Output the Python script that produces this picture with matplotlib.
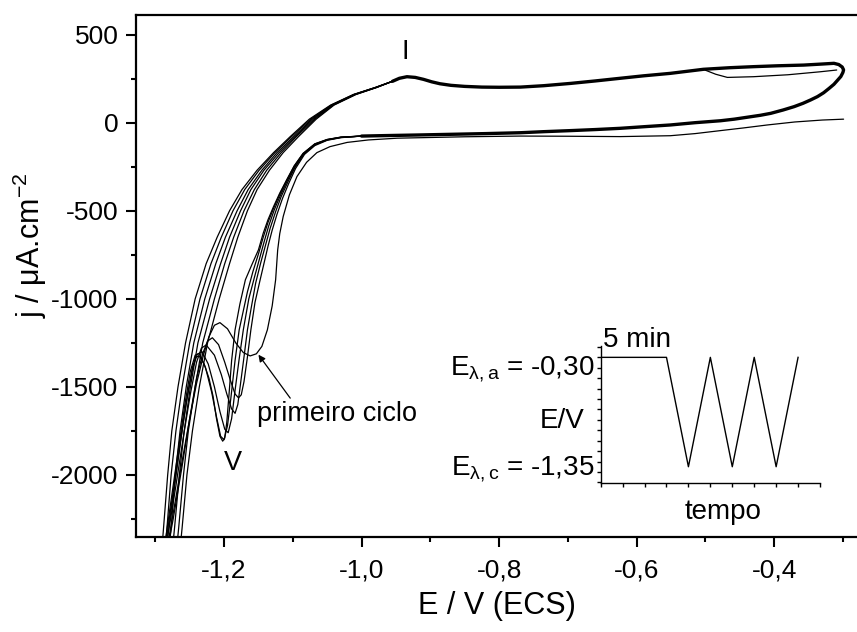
import matplotlib
matplotlib.use('Agg')
import matplotlib.pyplot as plt
from matplotlib.ticker import MultipleLocator

plt.rcParams['font.family'] = ['Liberation Sans', 'DejaVu Sans']
plt.rcParams['mathtext.fontset'] = 'custom'
plt.rcParams['mathtext.rm'] = 'Liberation Sans'
plt.rcParams['mathtext.it'] = 'Liberation Sans:italic'
plt.rcParams['mathtext.sf'] = 'Liberation Sans'

# --- data, (E in V vs ECS, j in uA/cm2) pairs ---
# part shared by all cycles: peak I, anodic plateau, turn at -0.30 V, cathodic branch
loop = [(-0.955, 235), (-0.945, 252), (-0.934, 261), (-0.922, 257), (-0.910, 246), (-0.898, 232),
        (-0.886, 221), (-0.870, 212), (-0.850, 206), (-0.825, 202), (-0.800, 201), (-0.769, 202),
        (-0.735, 210), (-0.696, 223), (-0.660, 237), (-0.624, 252), (-0.590, 266), (-0.551, 280),
        (-0.503, 303), (-0.465, 312), (-0.430, 318), (-0.395, 323), (-0.357, 327), (-0.330, 333),
        (-0.313, 337), (-0.306, 330), (-0.301, 316), (-0.299, 300), (-0.300, 285), (-0.303, 262),
        (-0.308, 240), (-0.313, 218), (-0.320, 195), (-0.328, 170), (-0.337, 148), (-0.347, 129),
        (-0.358, 110), (-0.371, 91), (-0.387, 72), (-0.405, 53), (-0.420, 42), (-0.439, 31),
        (-0.458, 20), (-0.478, 11), (-0.515, 0), (-0.551, -13), (-0.590, -23), (-0.624, -32),
        (-0.660, -39), (-0.696, -45), (-0.735, -51), (-0.769, -57), (-0.820, -62), (-0.870, -66),
        (-0.920, -70), (-0.948, -72), (-0.975, -74), (-1.000, -76)]

# end of the last sweep, leaving the anodic plateau near -0.5 V
tail = [(-0.500, 298), (-0.485, 275), (-0.468, 257), (-0.430, 261), (-0.380, 272),
        (-0.333, 289), (-0.309, 299)]

# first cycle, starting at -0.30 V after the 5 min hold
cycle1 = [(-0.299, 20), (-0.330, 15), (-0.370, 4), (-0.410, -13), (-0.445, -30), (-0.478, -45),
          (-0.515, -62), (-0.551, -74), (-0.624, -79), (-0.700, -77), (-0.769, -76), (-0.850, -80),
          (-0.948, -88), (-0.990, -98), (-1.021, -112), (-1.046, -136), (-1.065, -170),
          (-1.080, -225), (-1.094, -306), (-1.105, -410), (-1.114, -533), (-1.119, -630),
          (-1.122, -722), (-1.125, -892), (-1.130, -1040), (-1.137, -1176), (-1.145, -1270),
          (-1.153, -1312), (-1.162, -1324), (-1.172, -1305), (-1.183, -1250), (-1.195, -1170),
          (-1.206, -1135), (-1.214, -1150), (-1.222, -1215), (-1.230, -1320), (-1.240, -1480),
          (-1.250, -1680), (-1.260, -1900), (-1.271, -2150), (-1.283, -2420), (-1.287, -2500)]

# later cycles: cathodic sweep from -1.0 V through peak V to the bottom of the plot
cycle2 = [(-1.000, -76), (-1.030, -85), (-1.050, -100), (-1.068, -130), (-1.083, -180),
          (-1.096, -260), (-1.106, -345), (-1.115, -430), (-1.123, -520), (-1.130, -610),
          (-1.136, -700), (-1.142, -800), (-1.148, -900), (-1.155, -1020), (-1.161, -1176),
          (-1.166, -1330), (-1.171, -1470), (-1.175, -1545), (-1.179, -1562), (-1.184, -1540),
          (-1.191, -1460), (-1.199, -1360), (-1.208, -1260), (-1.217, -1221), (-1.224, -1240),
          (-1.231, -1310), (-1.240, -1450), (-1.250, -1680), (-1.261, -1950), (-1.274, -2250),
          (-1.286, -2500)]
cycle3 = [(-1.000, -76), (-1.030, -84), (-1.050, -98), (-1.068, -126), (-1.084, -178),
          (-1.097, -255), (-1.107, -335), (-1.117, -420), (-1.125, -505), (-1.133, -600),
          (-1.140, -700), (-1.147, -800), (-1.154, -910), (-1.160, -1040), (-1.166, -1176),
          (-1.171, -1330), (-1.176, -1480), (-1.180, -1600), (-1.184, -1650), (-1.189, -1625),
          (-1.196, -1540), (-1.204, -1430), (-1.214, -1320), (-1.226, -1262), (-1.233, -1280),
          (-1.240, -1360), (-1.249, -1540), (-1.259, -1780), (-1.270, -2060), (-1.282, -2350),
          (-1.288, -2500)]
cycle4 = [(-1.000, -76), (-1.030, -83), (-1.050, -97), (-1.068, -123), (-1.084, -176),
          (-1.097, -250), (-1.108, -330), (-1.118, -412), (-1.127, -495), (-1.135, -585),
          (-1.142, -680), (-1.149, -780), (-1.156, -880), (-1.164, -1000), (-1.172, -1176),
          (-1.178, -1340), (-1.184, -1520), (-1.189, -1680), (-1.194, -1760), (-1.199, -1740),
          (-1.206, -1640), (-1.214, -1500), (-1.223, -1370), (-1.232, -1300), (-1.239, -1315),
          (-1.246, -1400), (-1.255, -1590), (-1.265, -1850), (-1.276, -2150), (-1.289, -2500)]
cycle5 = [(-1.000, -76), (-1.030, -82), (-1.050, -96), (-1.068, -121), (-1.085, -175),
          (-1.098, -247), (-1.109, -328), (-1.119, -406), (-1.128, -486), (-1.136, -565),
          (-1.143, -650), (-1.150, -745), (-1.158, -845), (-1.166, -960), (-1.178, -1176),
          (-1.184, -1350), (-1.190, -1560), (-1.195, -1720), (-1.200, -1800), (-1.205, -1780),
          (-1.211, -1670), (-1.218, -1530), (-1.227, -1390), (-1.236, -1310), (-1.242, -1320),
          (-1.249, -1410), (-1.257, -1600), (-1.267, -1870), (-1.278, -2170), (-1.290, -2500)]
cycle6 = [(-1.000, -76), (-1.030, -82), (-1.050, -95), (-1.068, -120), (-1.085, -174),
          (-1.098, -245), (-1.109, -325), (-1.119, -400), (-1.128, -476), (-1.136, -550),
          (-1.143, -627), (-1.150, -722), (-1.160, -810), (-1.169, -892), (-1.177, -1030),
          (-1.184, -1176), (-1.189, -1350), (-1.193, -1553), (-1.196, -1700), (-1.199, -1790),
          (-1.202, -1808), (-1.206, -1780), (-1.211, -1680), (-1.216, -1553), (-1.222, -1450),
          (-1.229, -1370), (-1.236, -1325), (-1.241, -1330), (-1.246, -1390), (-1.252, -1520),
          (-1.260, -1720), (-1.268, -1950), (-1.277, -2200), (-1.287, -2500)]

# anodic return sweeps, from the bottom of the plot up to peak I (shared j levels)
ret_j = [-2500, -2300, -2000, -1750, -1500, -1250, -1000, -800, -650, -500,
         -380, -270, -170, -80, 20, 100, 160, 200, 235]
ret1_E = [-1.266, -1.261, -1.254, -1.246, -1.236, -1.224, -1.207, -1.192, -1.180, -1.166,
          -1.152, -1.134, -1.114, -1.092, -1.066, -1.040, -1.008, -0.978, -0.955]
ret2_E = [-1.271, -1.266, -1.259, -1.252, -1.242, -1.231, -1.214, -1.199, -1.186, -1.171,
          -1.156, -1.138, -1.117, -1.095, -1.068, -1.041, -1.009, -0.978, -0.955]
ret3_E = [-1.277, -1.272, -1.265, -1.258, -1.249, -1.238, -1.221, -1.205, -1.192, -1.176,
          -1.161, -1.142, -1.120, -1.097, -1.070, -1.042, -1.010, -0.979, -0.955]
ret4_E = [-1.282, -1.277, -1.271, -1.264, -1.255, -1.244, -1.228, -1.212, -1.198, -1.181,
          -1.165, -1.145, -1.123, -1.099, -1.072, -1.043, -1.011, -0.979, -0.955]
ret5_E = [-1.287, -1.283, -1.277, -1.270, -1.261, -1.250, -1.235, -1.219, -1.204, -1.187,
          -1.170, -1.149, -1.126, -1.102, -1.074, -1.044, -1.011, -0.980, -0.955]
ret6_E = [-1.292, -1.288, -1.282, -1.276, -1.267, -1.256, -1.242, -1.226, -1.210, -1.192,
          -1.174, -1.152, -1.128, -1.104, -1.076, -1.045, -1.012, -0.980, -0.955]

x_ticks = [-1.2, -1.0, -0.8, -0.6, -0.4]
x_ticklabels = ['-1,2', '-1,0', '-0,8', '-0,6', '-0,4']
y_ticks = [500, 0, -500, -1000, -1500, -2000]
y_ticklabels = ['500', '0', '-500', '-1000', '-1500', '-2000']

# inset: potential program
prog_t = [0, 3, 4, 5, 6, 7, 8, 9]
prog_E = [-0.30, -0.30, -1.35, -0.30, -1.35, -0.30, -1.35, -0.30]

W, H = 857, 632
fig = plt.figure(figsize=(W / 100, H / 100), dpi=100)
ax = fig.add_axes([135.7 / W, 1 - 537 / H, 1 - 135.7 / W + 0.002, (537 - 14.7) / H])

lw_thin = 0.9
def draw(pairs, lw=lw_thin):
    E, j = zip(*pairs)
    ax.plot(E, j, color='black', lw=lw, solid_capstyle='round', solid_joinstyle='round')

draw(loop, lw=2.4)
draw(tail)
for cyc in [cycle1, cycle2, cycle3, cycle4, cycle5, cycle6]:
    draw(cyc)
for r_E in [ret1_E, ret2_E, ret3_E, ret4_E, ret5_E, ret6_E]:
    ax.plot(r_E, ret_j, color='black', lw=lw_thin, solid_joinstyle='round')

ax.set_xlim(-1.3285, -0.2770)
ax.set_ylim(-2352, 613)
ax.set_xticks(x_ticks)
ax.set_xticklabels(x_ticklabels)
ax.set_yticks(y_ticks)
ax.set_yticklabels(y_ticklabels)
ax.xaxis.set_minor_locator(MultipleLocator(0.1))
ax.yaxis.set_minor_locator(MultipleLocator(250))
ax.tick_params(which='major', direction='out', length=7.5, width=1.5, labelsize=19, top=False, right=False)
ax.tick_params(which='minor', direction='out', length=3.8, width=1.5, top=False, right=False)
ax.tick_params(axis='x', which='major', pad=8)
ax.tick_params(axis='y', which='major', pad=5)
for side in ['left', 'bottom', 'top']:
    ax.spines[side].set_linewidth(1.6)
ax.spines['right'].set_visible(False)

ax.set_xlabel('E / V (ECS)', fontsize=22, va='center')
ax.set_ylabel('j / μA.cm$^{-2}$', fontsize=22, va='center')
ax.xaxis.set_label_coords(497 / W, 1 - 606 / H, transform=fig.transFigure)
ax.yaxis.set_label_coords(30 / W, 1 - 245 / H, transform=fig.transFigure)

ax.text(-0.936, 360, 'I', fontsize=19.5, ha='center', va='baseline')
ax.text(-1.187, -1971, 'V', fontsize=19.5, ha='center', va='baseline')
ax.annotate('primeiro ciclo', xy=(-1.150, -1317), xytext=(-1.152, -1693),
            fontsize=19.5, ha='left', va='baseline',
            arrowprops=dict(arrowstyle='-|>', color='black', lw=0.9,
                            shrinkA=0, shrinkB=0, mutation_scale=10,
                            relpos=(0.22, 1.0)))

# inset with the potential program
axi = fig.add_axes([600.7 / W, 1 - 483.3 / H, (820 - 600.7) / W, (483.3 - 346) / H])
axi.plot(prog_t, prog_E, color='black', lw=1.0)
axi.set_xlim(0, 10)
axi.set_ylim(-1.509, -0.191)
axi.xaxis.set_major_locator(MultipleLocator(1))
axi.yaxis.set_major_locator(MultipleLocator(0.1))
axi.tick_params(direction='out', length=3, width=1.0, labelbottom=False, labelleft=False)
axi.spines['top'].set_visible(False)
axi.spines['right'].set_visible(False)
axi.spines['left'].set_linewidth(1.0)
axi.spines['bottom'].set_linewidth(1.0)
axi.patch.set_alpha(0)

fig.text(603 / W, 1 - 347 / H, '5 min', fontsize=20, ha='left', va='baseline')
fig.text(594 / W, 1 - 375 / H, 'E$_{\\mathrm{λ,a}}$ = -0,30', fontsize=20, ha='right', va='baseline')
fig.text(585 / W, 1 - 428 / H, 'E/V', fontsize=20, ha='right', va='baseline')
fig.text(594 / W, 1 - 475 / H, 'E$_{\\mathrm{λ,c}}$ = -1,35', fontsize=20, ha='right', va='baseline')
fig.text(723 / W, 1 - 519 / H, 'tempo', fontsize=20, ha='center', va='baseline')

fig.savefig('out.png', dpi=100)
